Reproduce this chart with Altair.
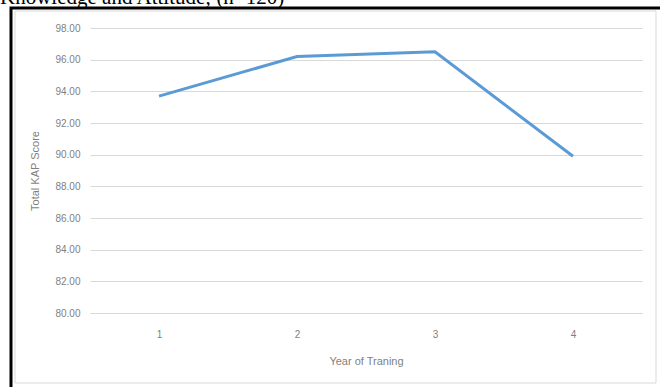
import altair as alt
import pandas as pd

years = ["1", "2", "3", "4"]
scores = [93.7, 96.2, 96.5, 89.9]
y_ticks = [80, 82, 84, 86, 88, 90, 92, 94, 96, 98]
caption = "Knowledge and Attitude; (n=120)"

df = pd.DataFrame({"year": years, "score": scores})

FONT = "Liberation Sans Narrow, Liberation Sans, Arial"
LABEL = "#7f7f7f"

base = alt.Chart(df)

line = base.mark_line(color="#5B9BD5", strokeWidth=3, strokeJoin="miter").encode(
    x=alt.X("year:O", sort=years,
            scale=alt.Scale(paddingOuter=0.5),
            axis=alt.Axis(title="Year of Traning", labelAngle=0, ticks=False,
                          domain=True, domainColor="#d9d9d9", grid=False,
                          labelPadding=16, titlePadding=16,
                          labelFont=FONT, titleFont=FONT, labelFontSize=10,
                          titleFontSize=11, labelColor=LABEL, titleColor=LABEL,
                          titleFontWeight="normal")),
    y=alt.Y("score:Q", scale=alt.Scale(domain=[80, 98], nice=False, zero=False),
            axis=alt.Axis(title="Total KAP Score", values=y_ticks, format=".2f",
                          ticks=False, domain=False, grid=True, gridColor="#d9d9d9",
                          labelPadding=10, titlePadding=14,
                          labelFont=FONT, titleFont=FONT, labelFontSize=10,
                          titleFontSize=11, labelColor=LABEL, titleColor=LABEL,
                          titleFontWeight="normal")),
)

outer = alt.Chart(pd.DataFrame({"a": [0]})).mark_rect(
    fill=None, stroke="#000000", strokeWidth=3
).encode(x=alt.value(-79), x2=alt.value(620), y=alt.value(-20), y2=alt.value(420))

inner = alt.Chart(pd.DataFrame({"a": [0]})).mark_rect(
    fill=None, stroke="#d9d9d9", strokeWidth=1
).encode(x=alt.value(-75), x2=alt.value(566), y=alt.value(-17), y2=alt.value(355))

cap = alt.Chart(pd.DataFrame({"t": [caption]})).mark_text(
    align="left", baseline="alphabetic", font="Liberation Serif", fontSize=21,
    color="#000000"
).encode(x=alt.value(-90), y=alt.value(-24), text="t:N")

chart = alt.layer(inner, outer, line, cap).properties(
    width=552, height=285,
    autosize=alt.AutoSizeParams(type="none"),
    padding={"left": 90, "top": 28, "right": 18, "bottom": 74},
    background="white",
).configure_view(stroke=None)

chart.save("out.html", embed_options={"renderer": "svg", "actions": False})
